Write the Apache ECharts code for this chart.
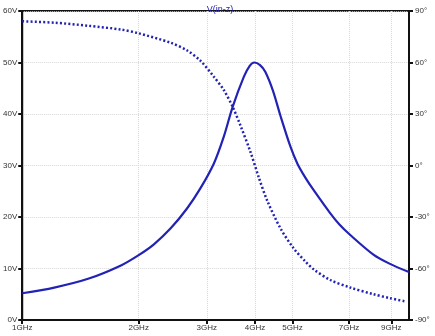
<!DOCTYPE html>
<html>
<head>
<meta charset="utf-8">
<script src="https://cdn.jsdelivr.net/npm/echarts@6/dist/echarts.min.js"></script>
<style>
  html, body { margin: 0; padding: 0; background: #fff; }
  #chart { width: 435px; height: 336px; }
</style>
</head>
<body>
<div id="chart"></div>
<script>
// frequency in GHz
var magFreq = [1.00, 1.21, 1.48, 1.80, 2.00, 2.19, 2.42, 2.67, 2.89, 3.13, 3.32, 3.50, 3.74, 3.87, 3.98, 4.12, 4.25, 4.45, 4.65, 4.94, 5.15, 5.40, 5.67, 6.26, 6.60, 7.05, 8.09, 8.93, 10.0];
var magVolt = [5.2, 6.3, 8.0, 10.6, 12.6, 14.7, 17.8, 21.7, 25.6, 30.4, 35.6, 41.4, 47.2, 49.3, 50.0, 49.5, 48.2, 44.5, 39.7, 33.6, 30.3, 27.6, 25.2, 20.7, 18.6, 16.5, 12.7, 10.9, 9.3];

var phFreq = [1.00, 1.21, 1.48, 1.80, 2.00, 2.42, 2.67, 2.89, 3.13, 3.32, 3.50, 3.67, 3.89, 4.09, 4.30, 4.65, 5.03, 5.40, 5.67, 6.26, 7.05, 8.09, 8.93, 9.85];
var phDeg = [84.0, 83.2, 81.4, 79.2, 77.0, 71.5, 67.0, 61.0, 51.7, 44.0, 34.2, 23.0, 8.0, -7.0, -20.5, -36.5, -48.2, -56.0, -60.5, -66.7, -71.1, -75.0, -77.3, -79.3];

var freqTicks = [1, 2, 3, 4, 5, 7, 9];

var blue = '#2222b4';
var font = 'Liberation Sans';

function pairs(xs, ys) {
    var out = [];
    for (var i = 0; i < xs.length; i++) out.push([xs[i], ys[i]]);
    return out;
}

var chart = echarts.init(document.getElementById('chart'));

var option = {
    animation: false,
    title: {
        text: 'V(in-z)',
        left: 215,
        textAlign: 'center',
        top: 0,
        textStyle: { color: blue, fontSize: 9, fontWeight: 'normal', fontFamily: font }
    },
    grid: {
        left: 21, right: 26, top: 11, bottom: 16,
        show: true, borderColor: '#111', borderWidth: 2
    },
    xAxis: {
        type: 'log',
        logBase: 10,
        min: 1,
        max: 10,
        axisLine: { lineStyle: { color: '#111', width: 2 } },
        axisTick: { customValues: freqTicks, length: 4, lineStyle: { color: '#111', width: 2 } },
        axisLabel: {
            customValues: freqTicks,
            formatter: function (v) { return v + 'GHz'; },
            fontSize: 8, color: '#333', fontFamily: font, margin: 4
        },
        splitLine: { show: true, lineStyle: { color: '#d8d8d8', type: 'dotted', width: 1 } },
        minorSplitLine: { show: false }
    },
    yAxis: [{
        type: 'value',
        min: 0, max: 60, interval: 10,
        position: 'left',
        axisLine: { show: true, lineStyle: { color: '#111', width: 2 } },
        axisTick: { show: true, length: 4, lineStyle: { color: '#111', width: 2 } },
        axisLabel: { formatter: '{value}V', fontSize: 8, color: '#333', fontFamily: font, margin: 5 },
        splitLine: { show: true, lineStyle: { color: '#d8d8d8', type: 'dotted', width: 1 } }
    }, {
        type: 'value',
        min: -90, max: 90, interval: 30,
        position: 'right',
        axisLine: { show: true, lineStyle: { color: '#111', width: 2 } },
        axisTick: { show: true, length: 4, lineStyle: { color: '#111', width: 2 } },
        axisLabel: { formatter: '{value}°', fontSize: 8, color: '#333', fontFamily: font, margin: 6 },
        splitLine: { show: false }
    }],
    series: [{
        name: 'mag',
        type: 'line',
        yAxisIndex: 0,
        data: pairs(magFreq, magVolt),
        smooth: 0.3,
        showSymbol: false,
        lineStyle: { color: blue, width: 2.2 }
    }, {
        name: 'phase',
        type: 'line',
        yAxisIndex: 1,
        data: pairs(phFreq, phDeg),
        smooth: 0.3,
        showSymbol: false,
        lineStyle: { color: blue, width: 2.5, type: [2, 2.2], cap: 'butt' }
    }]
};

chart.setOption(option);
</script>
</body>
</html>
